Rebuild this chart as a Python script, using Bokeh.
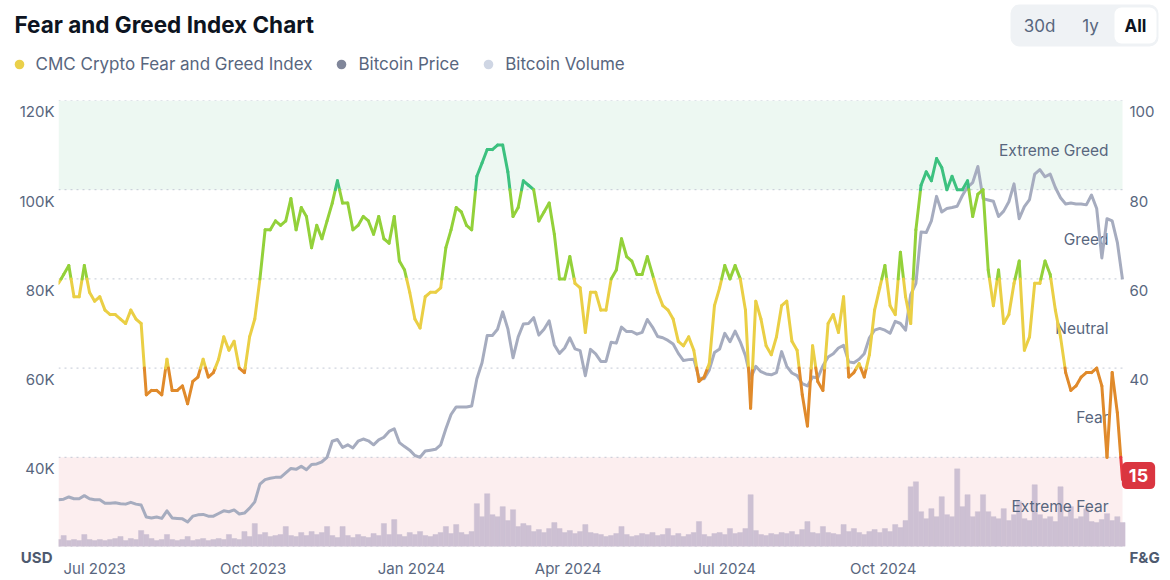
import pandas as pd
from bokeh.plotting import figure
from bokeh.layouts import column
from bokeh.models import (Range1d, LinearAxis, FixedTicker, DatetimeTickFormatter,
                          Label, BoxAnnotation, Legend, LegendItem, ColumnDataSource)
from bokeh.core.properties import value
from bokeh.embed import file_html
from bokeh.resources import INLINE

# ---------------- data ----------------
START_DATE = "2023-06-10"
STEP_DAYS = 3

fear_greed = [
    59, 61, 63, 56, 56, 63, 57, 55, 56, 53,
    52, 52, 51, 50, 53, 51, 50, 34, 35, 35,
    34, 42, 35, 35, 36, 32, 37, 38, 42, 38,
    39, 42, 47, 44, 46, 40, 39, 47, 51, 60,
    71, 71, 73, 72, 73, 78, 71, 76, 74, 67,
    72, 69, 73, 77, 82, 77, 77, 71, 72, 74,
    73, 70, 74, 69, 68, 74, 64, 62, 57, 51,
    49, 56, 57, 57, 58, 67, 71, 76, 75, 72,
    71, 83, 86, 89, 89, 90, 90, 84, 74, 76,
    82, 81, 80, 73, 75, 77, 70, 60, 60, 65,
    59, 58, 48, 57, 57, 53, 53, 60, 62, 69,
    65, 64, 61, 61, 65, 61, 57, 54, 53, 51,
    46, 45, 47, 44, 37, 38, 41, 54, 58, 63,
    60, 63, 60, 53, 31, 55, 51, 45, 43, 47,
    54, 55, 46, 44, 34, 27, 45, 37, 35, 50,
    52, 48, 56, 38, 39, 41, 38, 43, 53, 58,
    63, 54, 52, 66, 56, 50, 71, 81, 84, 82,
    87, 85, 80, 83, 80, 80, 82, 74, 79, 80,
    62, 54, 62, 50, 52, 59, 64, 44, 47, 59,
    59, 64, 61, 53, 47, 39, 35, 36, 38, 39,
    39, 40, 36, 20, 39, 30, 15,
]

btc_price_k = [
    30.5, 30.6, 31.1, 30.7, 30.7, 31.4, 30.7, 30.5, 30.5, 29.7,
    29.7, 29.8, 29.6, 29.5, 29.9, 29.5, 29.3, 26.6, 26.4, 26.6,
    26.3, 28.0, 26.4, 26.3, 26.2, 25.5, 26.8, 27.1, 27.2, 26.8,
    26.8, 27.4, 28.0, 27.8, 28.2, 27.3, 27.5, 28.6, 30.0, 34.0,
    35.0, 35.3, 35.5, 35.5, 36.5, 37.5, 37.3, 38.0, 37.2, 38.4,
    38.5, 39.0, 40.0, 43.6, 44.0, 42.2, 42.8, 42.1, 43.6, 44.1,
    43.7, 42.8, 43.9, 44.5, 45.8, 46.4, 43.3, 42.4, 41.6, 40.4,
    40.0, 41.4, 41.6, 41.8, 42.8, 46.4, 49.6, 51.3, 51.3, 51.3,
    51.5, 57.6, 61.2, 67.3, 67.3, 68.7, 72.6, 68.8, 62.3, 67.0,
    69.9, 70.0, 71.3, 67.4, 68.7, 70.6, 65.2, 63.3, 64.5, 66.8,
    64.3, 63.9, 58.3, 64.2, 63.2, 61.5, 61.5, 65.8, 65.6, 69.2,
    68.2, 68.2, 67.6, 68.0, 70.9, 69.2, 67.1, 66.8, 66.2, 65.4,
    63.3, 61.7, 61.9, 62.0, 57.8, 57.6, 59.6, 63.5, 64.3, 67.8,
    65.9, 68.3, 65.9, 62.8, 57.7, 60.4, 59.2, 58.7, 58.5, 59.0,
    63.7, 60.4, 58.9, 58.3, 56.5, 56.0, 58.0, 57.8, 60.5, 62.5,
    63.2, 64.5, 65.1, 61.4, 61.2, 62.0, 63.2, 66.8, 68.5, 68.9,
    68.5, 67.8, 70.5, 70.0, 68.5, 76.5, 79.0, 90.5, 90.4, 93.0,
    98.5, 95.0, 95.8, 96.0, 96.3, 98.7, 100.6, 101.6, 105.2, 98.0,
    97.7, 97.4, 94.0, 95.2, 97.3, 101.3, 93.5, 96.2, 97.8, 103.5,
    104.5, 102.9, 103.5, 100.5, 98.2, 96.8, 97.0, 96.8, 96.8, 96.6,
    98.8, 95.8, 84.7, 93.5, 93.0, 88.2, 79.9,
]

btc_volume_b = [
    7, 11, 6, 7, 6, 12, 7, 6, 7, 6,
    7, 8, 10, 6, 8, 7, 16, 12, 8, 6,
    7, 12, 7, 6, 7, 10, 6, 7, 8, 6,
    7, 8, 7, 12, 8, 7, 15, 10, 23, 12,
    14, 10, 11, 12, 20, 11, 10, 14, 11, 15,
    12, 14, 20, 11, 9, 20, 11, 9, 12, 10,
    9, 13, 11, 23, 12, 27, 12, 10, 14, 12,
    15, 11, 10, 12, 14, 20, 13, 22, 14, 12,
    15, 43, 30, 53, 32, 30, 40, 26, 37, 20,
    23, 21, 15, 17, 14, 18, 24, 18, 14, 16,
    13, 15, 22, 14, 13, 12, 10, 11, 13, 20,
    12, 10, 11, 13, 12, 14, 11, 12, 18, 11,
    13, 10, 12, 14, 25, 12, 10, 13, 14, 12,
    18, 13, 14, 18, 52, 16, 12, 11, 13, 12,
    14, 13, 15, 12, 17, 25, 14, 13, 20, 14,
    13, 12, 22, 15, 18, 14, 12, 15, 17, 14,
    18, 15, 22, 19, 26, 60, 65, 35, 28, 38,
    30, 50, 32, 30, 78, 40, 52, 30, 35, 52,
    35, 30, 28, 38, 26, 32, 45, 28, 26, 62,
    32, 28, 30, 25, 60, 30, 40, 28, 30, 38,
    25, 24, 27, 33, 26, 30, 24,
]

price_ticks = [20, 40, 60, 80, 100, 120]
price_tick_labels = ["USD", "40K", "60K", "80K", "100K", "120K"]
fg_ticks = [0, 20, 40, 60, 80, 100]
fg_tick_labels = ["F&G", "20", "40", "60", "80", "100"]
month_ticks = ["2023-07-01", "2023-10-01", "2024-01-01", "2024-04-01",
               "2024-07-01", "2024-10-01"]
band_names = ["Extreme Fear", "Fear", "Neutral", "Greed", "Extreme Greed"]
band_edges = [0, 20, 40, 60, 80, 100]
band_colors = ["#EA3943", "#E08A2B", "#EACF45", "#93D13A", "#3CC17F"]
legend_names = ["CMC Crypto Fear and Greed Index", "Bitcoin Price", "Bitcoin Volume"]
legend_colors = ["#EAD04A", "#80869A", "#CFD6E4"]
range_buttons = ["30d", "1y", "All"]
TITLE = "Fear and Greed Index Chart"

# ---------------- styles / geometry ----------------
FONT = "Inter"
GREY = "#58667E"
DARK = "#0D1421"
PRICE_COLOR = "#A6ACBF"
VOLUME_COLOR = "#CDC0D3"
GRID_COLOR = "#C3C9D5"
W = 1170
HEAD_H = 76
MAIN_H = 580 - HEAD_H
DATA_LEFT, DATA_RIGHT = 58, 1122          # where the series start / end
FRAME_RIGHT = 1164                         # frame also hosts the value badge
RIGHT_LABEL_X = 1129                       # left edge of the right-axis labels
F_TOP, F_BOTTOM = 100 - HEAD_H, 548 - HEAD_H

n = len(fear_greed)
dates = pd.date_range(START_DATE, periods=n, freq=f"{STEP_DAYS}D")
t_ms = (dates.astype("int64") // 10**6).astype(float).tolist()
tick_ms = (pd.to_datetime(month_ticks).astype("int64") // 10**6).astype(float).tolist()
t0, t_last = t_ms[0], t_ms[-1]
t_end = t0 + (t_last - t0) * (FRAME_RIGHT - DATA_LEFT) / (DATA_RIGHT - DATA_LEFT)

# ================= header: title, legend, range buttons =================
hdr = figure(width=W, height=HEAD_H, x_range=Range1d(0, W), y_range=Range1d(HEAD_H, 0),
             output_backend="svg", toolbar_location=None, title=None,
             x_axis_location=None, y_axis_location=None,
             min_border_left=0, min_border_right=0, min_border_top=0, min_border_bottom=0)
hdr.frame_align = False
hdr.grid.visible = False
hdr.outline_line_color = None
hdr.background_fill_color = "white"
hdr.border_fill_color = "white"

hdr.text(x=[14], y=[24], text=[TITLE], text_font=value(FONT), text_font_style="bold",
         text_font_size="22.5px", text_color=DARK, text_baseline="middle")

hdr.add_layout(BoxAnnotation(left=1010, right=1158, top=4, bottom=46, fill_color="#EFF2F5",
                             fill_alpha=1, line_color=None, border_radius=9, level="underlay"))
hdr.add_layout(BoxAnnotation(left=1114, right=1156, top=7, bottom=43, fill_color="white",
                             fill_alpha=1, line_color=None, border_radius=7, level="underlay"))
hdr.text(x=[1039, 1090], y=[25, 25], text=range_buttons[:2], text_font=value(FONT),
         text_font_size="17px", text_color=GREY, text_align="center", text_baseline="middle")
hdr.text(x=[1135], y=[25], text=range_buttons[2:], text_font=value(FONT),
         text_font_style="bold", text_font_size="17px", text_color=DARK,
         text_align="center", text_baseline="middle")

# legend markers (one point each, placed off-canvas; only the legend glyph is seen)
dots = [hdr.scatter([-100], [-100], marker="circle", size=10, fill_color=c, line_color=None)
        for c in legend_colors]
legend = Legend(items=[LegendItem(label=nm, renderers=[r]) for nm, r in zip(legend_names, dots)],
                orientation="horizontal", location=(6.5, 0), padding=0, margin=0,
                spacing=17, glyph_width=24, glyph_height=24, label_height=24, label_standoff=5,
                label_text_font=FONT, label_text_font_size="17px", label_text_color=GREY,
                background_fill_alpha=0, border_line_alpha=0)
hdr.add_layout(legend)

# ================= main chart =================
p = figure(width=W, height=MAIN_H, x_axis_type="datetime",
           x_range=Range1d(t0, t_end), y_range=Range1d(20, 120),
           output_backend="svg", toolbar_location=None, title=None,
           min_border_left=DATA_LEFT, min_border_right=W - FRAME_RIGHT,
           min_border_top=F_TOP, min_border_bottom=MAIN_H - F_BOTTOM)
p.frame_align = False
p.background_fill_color = "white"
p.border_fill_color = "white"
p.outline_line_color = None
p.extra_y_ranges = {"fg": Range1d(0, 100), "vol": Range1d(0, F_BOTTOM - F_TOP)}
p.grid.visible = False

# sentiment bands (end where the data ends)
p.add_layout(BoxAnnotation(right=t_last, bottom=band_edges[4], top=band_edges[5],
                           y_range_name="fg", fill_color="#EDF8F2", fill_alpha=1,
                           line_color=None, level="image"))
p.add_layout(BoxAnnotation(right=t_last, bottom=band_edges[0], top=band_edges[1],
                           y_range_name="fg", fill_color="#FCEEEF", fill_alpha=1,
                           line_color=None, level="image"))

# dotted horizontal grid lines at the price ticks, across the data span
p.segment(x0=[t0] * len(price_ticks), x1=[t_last] * len(price_ticks),
          y0=price_ticks, y1=price_ticks, line_color=GRID_COLOR, line_dash="2 4",
          line_width=1)

# axes (tick labels sit just below their grid line, as in the original)
yl = p.yaxis[0]
yl.ticker = FixedTicker(ticks=price_ticks[1:])
yl.major_label_overrides = {t: "\n" + l for t, l in zip(price_ticks[1:], price_tick_labels[1:])}

yr = LinearAxis(y_range_name="fg", ticker=FixedTicker(ticks=fg_ticks[1:]))
yr.major_label_overrides = {t: "\n" + l for t, l in zip(fg_ticks[1:], fg_tick_labels[1:])}
p.add_layout(yr, "right")

# unit captions at the bottom of each value axis (bold)
y_unit_l = LinearAxis(ticker=FixedTicker(ticks=price_ticks[:1]))
y_unit_l.major_label_overrides = {price_ticks[0]: "\n" + price_tick_labels[0]}
p.add_layout(y_unit_l, "left")
y_unit_r = LinearAxis(y_range_name="fg", ticker=FixedTicker(ticks=fg_ticks[:1]))
y_unit_r.major_label_overrides = {fg_ticks[0]: "\n" + fg_tick_labels[0]}
p.add_layout(y_unit_r, "right")

xa = p.xaxis[0]
xa.ticker = FixedTicker(ticks=tick_ms)
xa.formatter = DatetimeTickFormatter(milliseconds="%b %Y", seconds="%b %Y", minsec="%b %Y",
                                     minutes="%b %Y", hourmin="%b %Y", hours="%b %Y",
                                     days="%b %Y", months="%b %Y", years="%b %Y")

# right-axis labels start at x=1129, i.e. left of the widened frame's edge
for ax, standoff in ((yl, 4), (yr, RIGHT_LABEL_X - FRAME_RIGHT), (xa, 12),
                     (y_unit_l, -36), (y_unit_r, RIGHT_LABEL_X - FRAME_RIGHT)):
    ax.axis_line_color = None
    ax.major_tick_line_color = None
    ax.minor_tick_line_color = None
    ax.major_tick_out = 0
    ax.major_tick_in = 0
    ax.minor_tick_out = 0
    ax.minor_tick_in = 0
    ax.major_label_text_font = FONT
    ax.major_label_text_font_size = "15px"
    ax.major_label_text_color = GREY
    ax.major_label_standoff = standoff
for ax in (y_unit_l, y_unit_r):
    ax.major_label_text_font_style = "bold"
    ax.major_label_text_color = "#4E5A6F"

# volume bars
p.vbar(x=t_ms, top=btc_volume_b, width=STEP_DAYS * 86400000, y_range_name="vol",
       fill_color=VOLUME_COLOR, line_color=VOLUME_COLOR, line_width=0.5)

# band names
band_mid = [(a + b) / 2 for a, b in zip(band_edges[:-1], band_edges[1:])]
p.text(x=[t_last] * len(band_names), y=band_mid, text=band_names, y_range_name="fg",
       text_align="right", text_baseline="middle", x_offset=-14, y_offset=5,
       text_font=value(FONT), text_font_size="15.5px", text_color=GREY)

# bitcoin price
p.line(t_ms, btc_price_k, line_color=PRICE_COLOR, line_width=3, line_join="round")

# fear & greed line, coloured by sentiment band (split where it crosses a band edge)
inner = band_edges[1:-1]


def band_of(v):
    return sum(v >= e for e in inner)


seg = dict(x0=[], y0=[], x1=[], y1=[], color=[])
for i in range(n - 1):
    ta, tb, va, vb = t_ms[i], t_ms[i + 1], fear_greed[i], fear_greed[i + 1]
    cross = [e for e in inner if min(va, vb) < e < max(va, vb)]
    cross.sort(reverse=vb < va)
    pts = [(ta, va)] + [(ta + (e - va) / (vb - va) * (tb - ta), e) for e in cross] + [(tb, vb)]
    for (xa0, ya0), (xb0, yb0) in zip(pts[:-1], pts[1:]):
        seg["x0"].append(xa0); seg["y0"].append(ya0)
        seg["x1"].append(xb0); seg["y1"].append(yb0)
        seg["color"].append(band_colors[band_of((ya0 + yb0) / 2)])
p.segment(x0="x0", y0="y0", x1="x1", y1="y1", line_color="color", line_width=3,
          line_cap="round", source=ColumnDataSource(seg), y_range_name="fg")

# current value badge, right of the last point
p.add_layout(Label(x=t_last, y=fear_greed[-1], y_range_name="fg", text=str(fear_greed[-1]),
                   x_offset=16, y_offset=4, text_align="center", text_baseline="middle",
                   text_font=FONT, text_font_style="bold", text_font_size="18px",
                   text_color="white", background_fill_color="#DA3540", background_fill_alpha=1,
                   padding=7, border_radius=5))

layout = column(hdr, p, spacing=0)
open("out.html", "w").write(file_html(layout, INLINE))
